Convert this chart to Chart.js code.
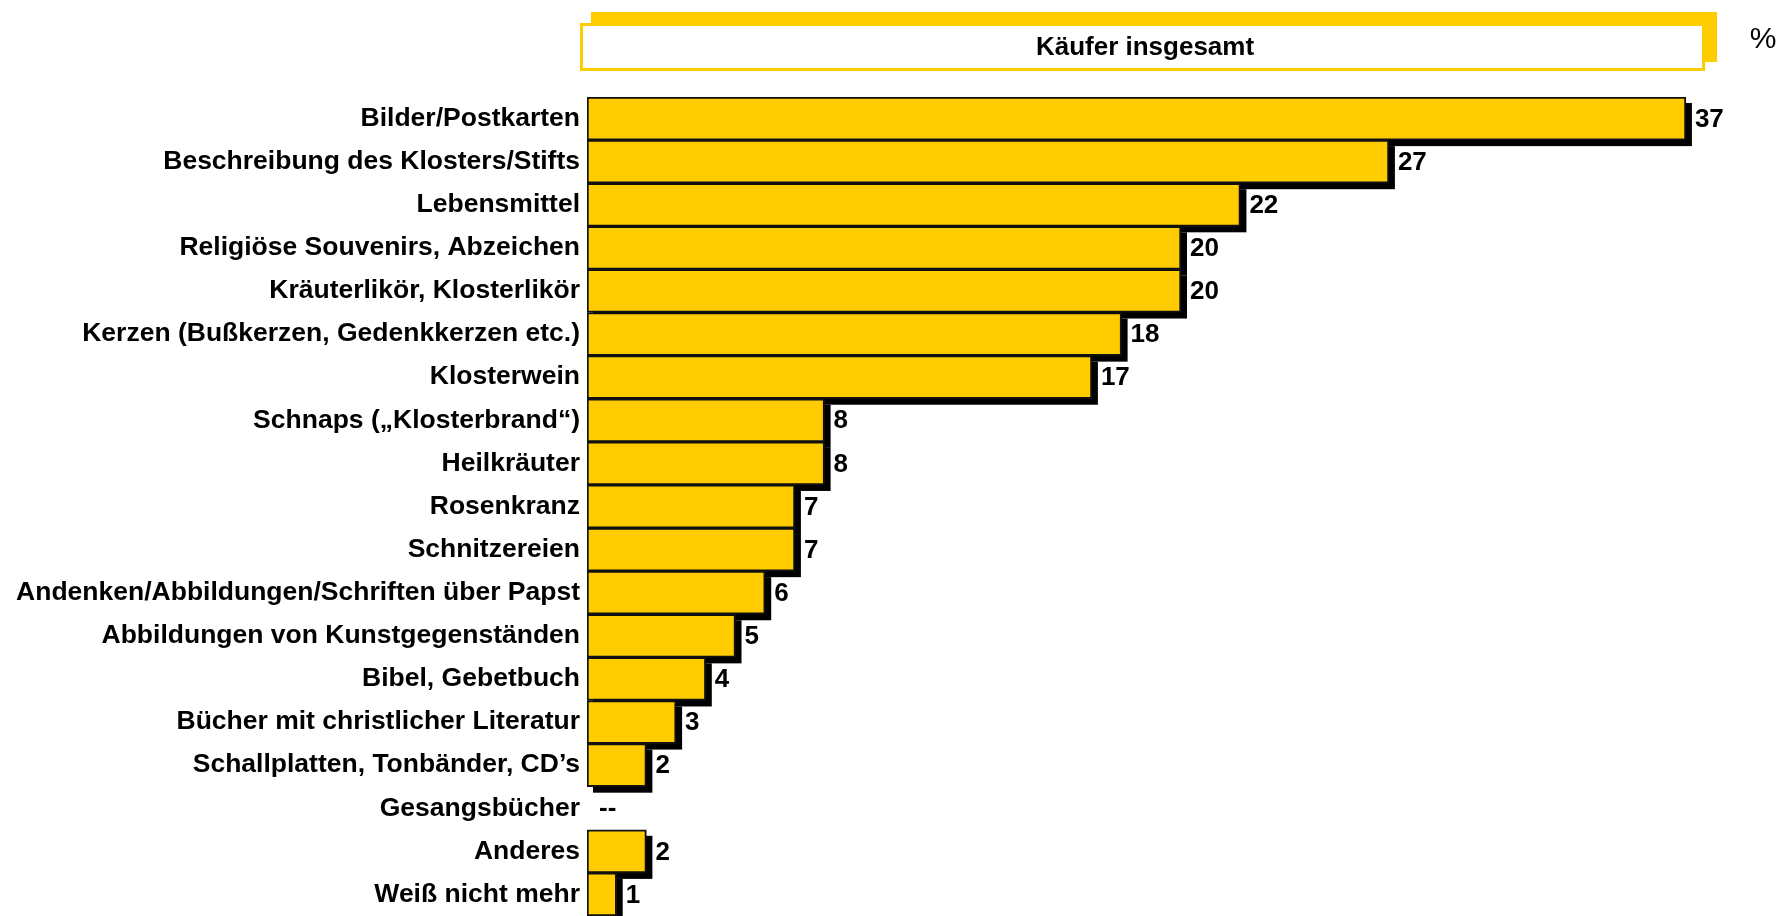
<!DOCTYPE html>
<html>
<head>
<meta charset="utf-8">
<script src="https://cdn.jsdelivr.net/npm/chart.js@4/dist/chart.umd.min.js"></script>
<style>
  html, body { margin: 0; padding: 0; background: #fff; }
  #wrap { width: 1781px; height: 916px; position: relative; }
</style>
</head>
<body>
<div id="wrap"><canvas id="c" width="1781" height="916"></canvas></div>
<script>
const categories = [
  "Bilder/Postkarten",
  "Beschreibung des Klosters/Stifts",
  "Lebensmittel",
  "Religiöse Souvenirs, Abzeichen",
  "Kräuterlikör, Klosterlikör",
  "Kerzen (Bußkerzen, Gedenkkerzen etc.)",
  "Klosterwein",
  "Schnaps („Klosterbrand“)",
  "Heilkräuter",
  "Rosenkranz",
  "Schnitzereien",
  "Andenken/Abbildungen/Schriften über Papst",
  "Abbildungen von Kunstgegenständen",
  "Bibel, Gebetbuch",
  "Bücher mit christlicher Literatur",
  "Schallplatten, Tonbänder, CD’s",
  "Gesangsbücher",
  "Anderes",
  "Weiß nicht mehr"
];
const values = [37, 27, 22, 20, 20, 18, 17, 8, 8, 7, 7, 6, 5, 4, 3, 2, 0, 2, 1];
const valueLabels = ["37","27","22","20","20","18","17","8","8","7","7","6","5","4","3","2","--","2","1"];
const headerTitle = "Käufer insgesamt";
const unitLabel = "%";

const YELLOW = "#FFCC00";
const FONT = "'Liberation Sans', Arial, Helvetica, sans-serif";

const headerPlugin = {
  id: "header",
  beforeDraw(chart) {
    const ctx = chart.ctx;
    ctx.save();
    ctx.fillStyle = YELLOW;
    ctx.fillRect(591, 12, 1126, 50);
    ctx.fillStyle = "#fff";
    ctx.fillRect(580, 23, 1125, 48);
    ctx.strokeStyle = YELLOW;
    ctx.lineWidth = 3;
    ctx.strokeRect(581.5, 24.5, 1122, 45);
    ctx.fillStyle = "#000";
    ctx.font = "bold 26px " + FONT;
    ctx.textAlign = "center";
    ctx.textBaseline = "middle";
    ctx.fillText(headerTitle, 1145, 48);
    ctx.font = "30px " + FONT;
    ctx.fillText(unitLabel, 1763, 40);
    ctx.restore();
  }
};

const shadowPlugin = {
  id: "barShadow",
  beforeDatasetsDraw(chart) {
    const ctx = chart.ctx;
    const meta = chart.getDatasetMeta(0);
    ctx.save();
    ctx.fillStyle = "#000";
    meta.data.forEach((bar, i) => {
      if (values[i] <= 0) return;
      const p = bar.getProps(["x", "y", "base", "height"], true);
      const off = 6;
      ctx.fillRect(p.base + off, p.y - p.height / 2 + off, p.x - p.base, p.height);
    });
    ctx.restore();
  },
  afterDatasetsDraw(chart) {
    const ctx = chart.ctx;
    ctx.save();
    ctx.fillStyle = "#000";
    ctx.font = "bold 26px " + FONT;
    ctx.textBaseline = "middle";
    ctx.textAlign = "left";
    const meta = chart.getDatasetMeta(0);
    meta.data.forEach((bar, i) => {
      const v = values[i];
      const x = v > 0 ? bar.x + 9 : bar.base + 12;
      ctx.fillText(valueLabels[i], x, bar.y + 1);
    });
    ctx.restore();
  }
};

new Chart(document.getElementById("c"), {
  type: "bar",
  data: {
    labels: categories,
    datasets: [{
      data: values,
      backgroundColor: YELLOW,
      borderColor: "#111",
      borderWidth: 2,
      borderSkipped: false,
      barPercentage: 1,
      categoryPercentage: 1
    }]
  },
  options: {
    indexAxis: "y",
    responsive: false,
    animation: false,
    layout: { padding: { top: 97, right: 6, bottom: 0, left: 0 } },
    plugins: {
      legend: { display: false },
      tooltip: { enabled: false },
      title: { display: false }
    },
    scales: {
      x: { min: 0, max: 40, display: false },
      y: {
        grid: { display: false, drawTicks: false },
        border: { display: false },
        ticks: {
          color: "#000",
          font: { family: FONT, size: 26.5, weight: "bold" },
          padding: 7,
          autoSkip: false
        },
        afterFit(scale) {
          scale.width = 587;
          scale.paddingTop = 0;
          scale.paddingBottom = 0;
        }
      }
    }
  },
  plugins: [headerPlugin, shadowPlugin]
});
</script>
</body>
</html>
